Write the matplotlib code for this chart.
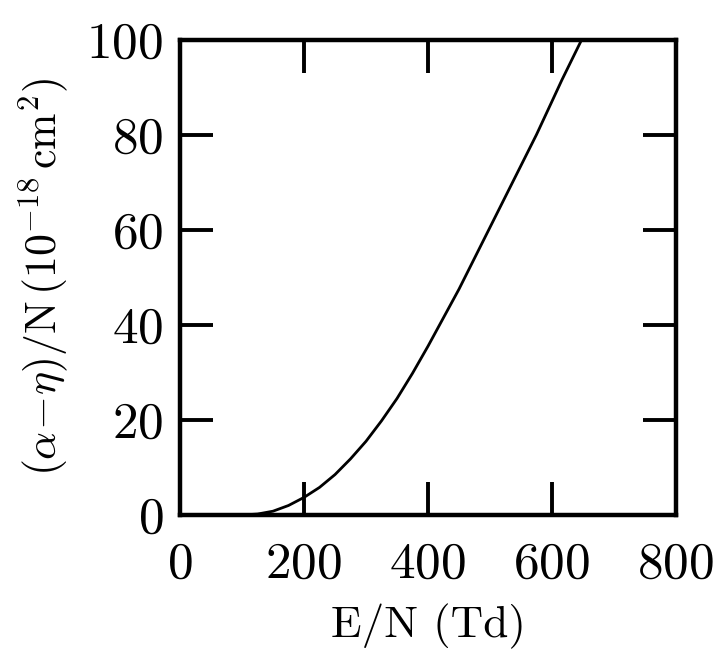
import matplotlib
matplotlib.use("Agg")
import matplotlib.pyplot as plt

# Data
E_N = [100, 125, 150, 175, 200, 225, 250, 275, 300, 325, 350, 375, 400, 450, 500, 550, 575, 600, 616, 648]
alpha_eta = [0.0, 0.2, 0.8, 2.0, 3.7, 5.8, 8.5, 11.8, 15.5, 19.8, 24.5, 29.8, 35.5, 47.5, 60.5, 73.5, 80.0, 87.0, 91.5, 100.0]
x_ticks = [0, 200, 400, 600, 800]
y_ticks = [0, 20, 40, 60, 80, 100]

plt.rcParams['font.family'] = 'cmr10'
plt.rcParams['mathtext.fontset'] = 'cm'
plt.rcParams['axes.formatter.use_mathtext'] = True

fig = plt.figure(figsize=(7.21, 6.53), dpi=100)
ax = fig.add_axes([180/721, 1-515/653, (676-180)/721, (515-39.5)/653])

ax.plot(E_N, alpha_eta, color='black', lw=2.0)
ax.set_xlim(0, 800)
ax.set_ylim(0, 100)
ax.set_xticks(x_ticks)
ax.set_yticks(y_ticks)
ax.tick_params(direction='in', length=24, width=2.8, labelsize=37,
               top=True, right=True)
ax.tick_params(axis='x', pad=19)
ax.tick_params(axis='y', pad=12)
for s in ax.spines.values():
    s.set_linewidth(3.2)

ax.set_xlabel('E/N (Td)', fontsize=32.5, labelpad=12)
ax.set_ylabel(r'$(\alpha\!-\!\eta)/\mathrm{N}\,(10^{-18}\,\mathrm{cm}^{2})$', fontsize=31.5, labelpad=12)

fig.savefig('out.png', dpi=100)
